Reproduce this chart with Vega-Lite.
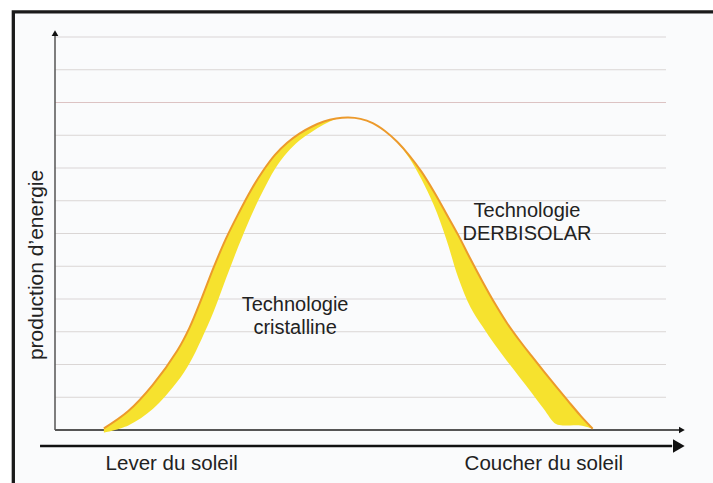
{
  "$schema": "https://vega.github.io/schema/vega-lite/v6.json",
  "width": 611,
  "height": 393,
  "autosize": {"type": "none"},
  "padding": {"left": 55, "top": 37, "right": 47, "bottom": 53},
  "background": "white",
  "config": {"view": {"stroke": null}},
  "datasets": {
    "curves": [
      {"t": 8, "cristalline": -0.08, "derbisolar": 0.05},
      {"t": 12, "cristalline": 0.14, "derbisolar": 0.58},
      {"t": 16, "cristalline": 0.64, "derbisolar": 1.38},
      {"t": 20, "cristalline": 1.47, "derbisolar": 2.42},
      {"t": 22, "cristalline": 2.03, "derbisolar": 3.12},
      {"t": 24, "cristalline": 2.78, "derbisolar": 4.02},
      {"t": 26, "cristalline": 3.63, "derbisolar": 4.98},
      {"t": 28, "cristalline": 4.63, "derbisolar": 5.85},
      {"t": 30, "cristalline": 5.6, "derbisolar": 6.6},
      {"t": 32, "cristalline": 6.5, "derbisolar": 7.3},
      {"t": 34, "cristalline": 7.28, "derbisolar": 7.9},
      {"t": 36, "cristalline": 7.97, "derbisolar": 8.4},
      {"t": 38, "cristalline": 8.47, "derbisolar": 8.77},
      {"t": 40, "cristalline": 8.84, "derbisolar": 9.05},
      {"t": 42, "cristalline": 9.1, "derbisolar": 9.26},
      {"t": 44, "cristalline": 9.33, "derbisolar": 9.42},
      {"t": 46, "cristalline": 9.5, "derbisolar": 9.51},
      {"t": 48, "cristalline": 9.54, "derbisolar": 9.54},
      {"t": 50, "cristalline": 9.5, "derbisolar": 9.5},
      {"t": 52, "cristalline": 9.37, "derbisolar": 9.37},
      {"t": 54, "cristalline": 9.13, "derbisolar": 9.13},
      {"t": 56, "cristalline": 8.79, "derbisolar": 8.8},
      {"t": 58, "cristalline": 8.3, "derbisolar": 8.38},
      {"t": 60, "cristalline": 7.65, "derbisolar": 7.88},
      {"t": 62, "cristalline": 6.86, "derbisolar": 7.28},
      {"t": 64, "cristalline": 5.85, "derbisolar": 6.62},
      {"t": 66, "cristalline": 4.65, "derbisolar": 5.95},
      {"t": 68, "cristalline": 3.75, "derbisolar": 5.22},
      {"t": 70, "cristalline": 3.15, "derbisolar": 4.52},
      {"t": 72, "cristalline": 2.6, "derbisolar": 3.86},
      {"t": 74, "cristalline": 2.1, "derbisolar": 3.26},
      {"t": 76, "cristalline": 1.62, "derbisolar": 2.74},
      {"t": 78, "cristalline": 1.14, "derbisolar": 2.26},
      {"t": 80, "cristalline": 0.64, "derbisolar": 1.79},
      {"t": 82, "cristalline": 0.18, "derbisolar": 1.33},
      {"t": 84, "cristalline": 0.14, "derbisolar": 0.88},
      {"t": 86, "cristalline": 0.14, "derbisolar": 0.44},
      {"t": 88, "cristalline": 0.04, "derbisolar": 0.04}
    ],
    "grid": [
      {"v": 1}, {"v": 2}, {"v": 3}, {"v": 4}, {"v": 5}, {"v": 6},
      {"v": 7}, {"v": 8}, {"v": 9}, {"v": 10}, {"v": 11}, {"v": 12}
    ],
    "labels": [
      {"t": 39.3, "v": 3.63, "label": "Technologie", "group": "inner"},
      {"t": 39.3, "v": 2.93, "label": "cristalline", "group": "inner"},
      {"t": 77.25, "v": 6.5, "label": "Technologie", "group": "inner"},
      {"t": 77.25, "v": 5.8, "label": "DERBISOLAR", "group": "inner"},
      {"t": 19.1, "v": -1.22, "label": "Lever du soleil", "group": "axis"},
      {"t": 80.0, "v": -1.22, "label": "Coucher du soleil", "group": "axis"}
    ]
  },
  "layer": [
    {
      "data": {"values": [{}]},
      "mark": {"type": "rect", "fill": "#fafbfc", "stroke": "#1a1a1a", "strokeWidth": 3.3, "clip": false},
      "encoding": {
        "x": {"datum": -6.82, "type": "quantitative", "scale": {"domain": [0, 100], "nice": false, "zero": false}, "axis": null},
        "x2": {"datum": 130},
        "y": {"datum": 12.77, "type": "quantitative", "scale": {"domain": [0, 12], "nice": false, "zero": false}, "axis": null},
        "y2": {"datum": -10}
      }
    },
    {
      "data": {"name": "grid"},
      "mark": {"type": "rule", "strokeWidth": 1.2, "clip": false},
      "encoding": {
        "y": {"field": "v", "type": "quantitative", "scale": {"domain": [0, 12], "nice": false, "zero": false}, "axis": null},
        "x": {"datum": 0, "type": "quantitative", "scale": {"domain": [0, 100], "nice": false, "zero": false}, "axis": null},
        "x2": {"datum": 100},
        "color": {"condition": {"test": "datum.v === 10", "value": "#dcc3c3"}, "value": "#dad6d5"}
      }
    },
    {
      "data": {"values": [{}]},
      "mark": {"type": "rule", "stroke": "#555555", "strokeWidth": 1.5, "clip": false},
      "encoding": {
        "x": {"datum": 0, "type": "quantitative", "scale": {"domain": [0, 100], "nice": false, "zero": false}, "axis": null},
        "y": {"datum": 0, "type": "quantitative", "scale": {"domain": [0, 12], "nice": false, "zero": false}, "axis": null},
        "y2": {"datum": 12.1}
      }
    },
    {
      "data": {"values": [{}]},
      "mark": {"type": "rule", "stroke": "#555555", "strokeWidth": 2, "clip": false},
      "encoding": {
        "y": {"datum": 0, "type": "quantitative", "scale": {"domain": [0, 12], "nice": false, "zero": false}, "axis": null},
        "x": {"datum": 0, "type": "quantitative", "scale": {"domain": [0, 100], "nice": false, "zero": false}, "axis": null},
        "x2": {"datum": 102.3}
      }
    },
    {
      "data": {"values": [{}]},
      "mark": {"type": "rule", "stroke": "#111111", "strokeWidth": 2.5, "clip": false},
      "encoding": {
        "y": {"datum": -0.49, "type": "quantitative", "scale": {"domain": [0, 12], "nice": false, "zero": false}, "axis": null},
        "x": {"datum": -2.45, "type": "quantitative", "scale": {"domain": [0, 100], "nice": false, "zero": false}, "axis": null},
        "x2": {"datum": 101}
      }
    },
    {
      "data": {"values": [{}]},
      "mark": {"type": "point", "shape": "triangle-up", "filled": true, "size": 45, "color": "#111111", "opacity": 1, "clip": false},
      "encoding": {
        "x": {"datum": 0, "type": "quantitative", "scale": {"domain": [0, 100], "nice": false, "zero": false}, "axis": null},
        "y": {"datum": 12.12, "type": "quantitative", "scale": {"domain": [0, 12], "nice": false, "zero": false}, "axis": null}
      }
    },
    {
      "data": {"values": [{}]},
      "mark": {"type": "point", "shape": "triangle-right", "filled": true, "size": 45, "color": "#111111", "opacity": 1, "clip": false},
      "encoding": {
        "x": {"datum": 102.6, "type": "quantitative", "scale": {"domain": [0, 100], "nice": false, "zero": false}, "axis": null},
        "y": {"datum": 0, "type": "quantitative", "scale": {"domain": [0, 12], "nice": false, "zero": false}, "axis": null}
      }
    },
    {
      "data": {"values": [{}]},
      "mark": {"type": "point", "shape": "triangle-right", "filled": true, "size": 180, "color": "#111111", "opacity": 1, "clip": false},
      "encoding": {
        "x": {"datum": 102.1, "type": "quantitative", "scale": {"domain": [0, 100], "nice": false, "zero": false}, "axis": null},
        "y": {"datum": -0.49, "type": "quantitative", "scale": {"domain": [0, 12], "nice": false, "zero": false}, "axis": null}
      }
    },
    {
      "data": {"name": "curves"},
      "mark": {"type": "area", "interpolate": "catmull-rom", "color": "#f6e22e", "opacity": 1, "clip": false},
      "encoding": {
        "x": {"field": "t", "type": "quantitative", "scale": {"domain": [0, 100], "nice": false, "zero": false}, "axis": null},
        "y": {"field": "derbisolar", "type": "quantitative", "scale": {"domain": [0, 12], "nice": false, "zero": false}, "axis": null},
        "y2": {"field": "cristalline"}
      }
    },
    {
      "data": {"name": "curves"},
      "mark": {"type": "line", "interpolate": "catmull-rom", "color": "#ec9a2c", "strokeWidth": 2, "clip": false},
      "encoding": {
        "x": {"field": "t", "type": "quantitative", "scale": {"domain": [0, 100], "nice": false, "zero": false}, "axis": null},
        "y": {"field": "derbisolar", "type": "quantitative", "scale": {"domain": [0, 12], "nice": false, "zero": false}, "axis": null}
      }
    },
    {
      "data": {"name": "labels"},
      "mark": {"type": "text", "font": "Liberation Sans", "color": "#222222", "align": "center", "baseline": "alphabetic", "clip": false},
      "encoding": {
        "x": {"field": "t", "type": "quantitative", "scale": {"domain": [0, 100], "nice": false, "zero": false}, "axis": null},
        "y": {"field": "v", "type": "quantitative", "scale": {"domain": [0, 12], "nice": false, "zero": false}, "axis": null},
        "text": {"field": "label"},
        "size": {"condition": {"test": "datum.group === 'axis'", "value": 20.5}, "value": 20}
      }
    },
    {
      "data": {"values": [{"label": "production d’energie"}]},
      "mark": {"type": "text", "font": "Liberation Sans", "fontSize": 21, "color": "#222222", "align": "center", "baseline": "middle", "angle": 270, "clip": false},
      "encoding": {
        "x": {"datum": -3.0, "type": "quantitative", "scale": {"domain": [0, 100], "nice": false, "zero": false}, "axis": null},
        "y": {"datum": 5.04, "type": "quantitative", "scale": {"domain": [0, 12], "nice": false, "zero": false}, "axis": null},
        "text": {"field": "label"}
      }
    }
  ]
}
